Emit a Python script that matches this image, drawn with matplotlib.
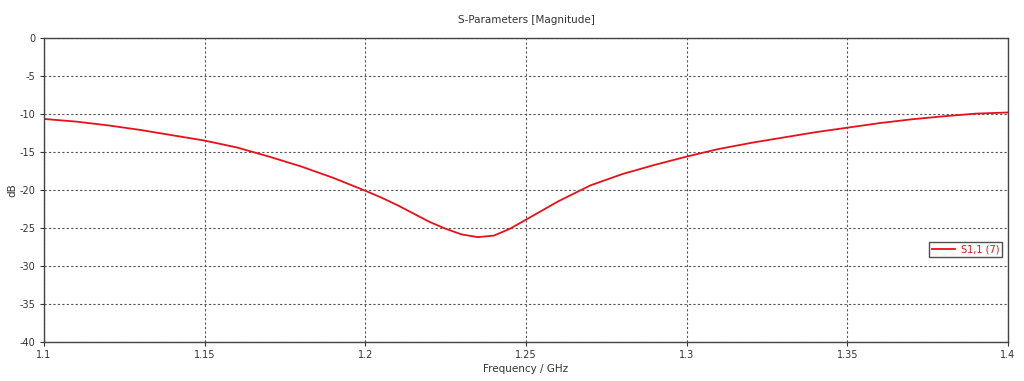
import matplotlib
matplotlib.use("Agg")
import matplotlib.pyplot as plt

freq_ghz = [1.10, 1.11, 1.12, 1.13, 1.14, 1.15, 1.16, 1.165, 1.17, 1.18, 1.19, 1.20,
            1.205, 1.21, 1.215, 1.22, 1.225, 1.23, 1.235, 1.24, 1.245, 1.25, 1.255, 1.26,
            1.27, 1.28, 1.29, 1.30, 1.31, 1.32, 1.33, 1.34, 1.35, 1.36, 1.37, 1.38,
            1.39, 1.40]
s11_db = [-10.65, -11.0, -11.5, -12.1, -12.8, -13.5, -14.4, -15.0, -15.6, -16.9, -18.4, -20.1,
          -21.0, -22.0, -23.1, -24.2, -25.1, -25.85, -26.2, -26.0, -25.1, -23.9, -22.7, -21.5,
          -19.4, -17.9, -16.7, -15.6, -14.6, -13.8, -13.1, -12.4, -11.8, -11.2, -10.7, -10.3,
          -9.95, -9.8]

x_ticks = [1.1, 1.15, 1.2, 1.25, 1.3, 1.35, 1.4]
x_tick_labels = ["1.1", "1.15", "1.2", "1.25", "1.3", "1.35", "1.4"]
y_ticks = [0, -5, -10, -15, -20, -25, -30, -35, -40]

plt.rcParams['font.family'] = ['DejaVu Sans']
plt.rcParams['axes.unicode_minus'] = False
plt.rcParams['lines.solid_joinstyle'] = 'round'
fig = plt.figure(figsize=(10.24, 3.81), dpi=100)
ax = fig.add_axes([44/1024, 1 - 342/381, (1008-44)/1024, (342-38)/381])

ax.plot(freq_ghz, s11_db, color="#e8101a", lw=1.3, label="S1,1 (7)")
ax.set_xlim(1.1, 1.4)
ax.set_ylim(-40, 0)
ax.set_xticks(x_ticks)
ax.set_xticklabels(x_tick_labels)
ax.set_yticks(y_ticks)
ax.grid(True, linestyle=(0, (2, 2)), color="#555555", lw=0.8)
for s in ax.spines.values():
    s.set_color("#444444")
    s.set_linewidth(1.0)
ax.tick_params(axis="both", labelsize=7, colors="#333333", length=3, width=0.8, pad=3)

ax.set_title("S-Parameters [Magnitude]", fontsize=7.5, color="#333333", pad=11)
ax.set_xlabel("Frequency / GHz", fontsize=7.5, color="#333333", va="center")
ax.set_ylabel("dB", fontsize=7.5, color="#333333", va="center")
ax.xaxis.set_label_coords(0.5, (342 - 369) / 304)
ax.yaxis.set_label_coords((12 - 44) / 964, 0.5)

leg = ax.legend(loc="center right", bbox_to_anchor=(0.9935, 0.305), fontsize=7,
                frameon=True, fancybox=False, edgecolor="#222222", handlelength=2.4,
                borderpad=0.25, handletextpad=0.6, borderaxespad=0)
leg.get_frame().set_linewidth(1.0)
for t in leg.get_texts():
    t.set_color("#e8101a")

fig.savefig("out.png", dpi=100)
